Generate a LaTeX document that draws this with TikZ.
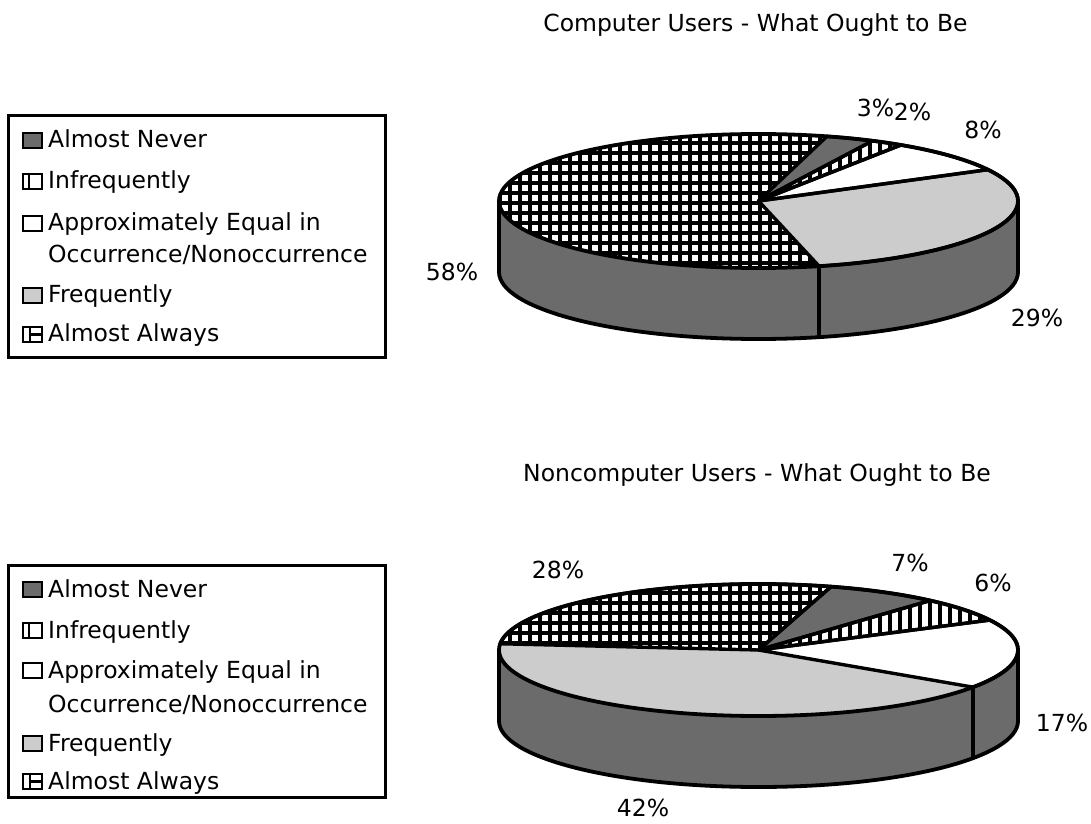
\documentclass[tikz,border=0pt]{standalone}
\usepackage{fontspec}
\setmainfont{DejaVu Sans}
\begin{document}
\begin{tikzpicture}[x=1pt,y=1pt,
  every node/.style={inner sep=0pt, font=\fontsize{23.5pt}{28pt}\selectfont},
  rim/.style={line width=3.8pt, line join=round, line cap=round},
  edge/.style={line width=3.4pt, line join=round, line cap=round},
  hatchline/.style={line width=3.3pt},
  darkfill/.style={fill=black!58},
  lightfill/.style={fill=black!20},
  legendbox/.style={draw, line width=3pt},
  icon/.style={draw, line width=2.6pt},
]
\useasboundingbox (0,0) rectangle (1091,823);

% one wedge of the top face: centre x, centre y, start angle, end angle
\newcommand\pieWedge[4]{(#1,#2) -- ++(#3:259.5pt and \pry) arc[start angle=#3, end angle=#4, x radius=259.5pt, y radius=\pry] -- cycle}
% crosshatch of the "Almost Always" wedges
\newcommand\gridWedge[4]{%
  \begin{scope}
    \clip \pieWedge{#1}{#2}{#3}{#4};
    \fill[white] \pieWedge{#1}{#2}{#3}{#4};
    \draw[hatchline] (#1-275,#2-80) grid[step=10pt] (#1+275,#2+80);
  \end{scope}}
% vertical bars of the "Infrequently" wedges
\newcommand\barWedge[4]{%
  \begin{scope}
    \clip \pieWedge{#1}{#2}{#3}{#4};
    \fill[white] \pieWedge{#1}{#2}{#3}{#4};
    \draw[hatchline] (#1-275,#2-80) grid[xstep=10pt, ystep=1000pt] (#1+275,#2+80);
  \end{scope}}
% side wall of a disc of depth 71
\newcommand\pieSide[2]{%
  \path[darkfill] (#1-259.5,#2) arc[start angle=180, end angle=360, x radius=259.5pt, y radius=\pry]
     -- ++(0,-71) arc[start angle=360, end angle=180, x radius=259.5pt, y radius=\pry] -- cycle;
  \draw[rim] (#1-259.5,#2) -- ++(0,-71) arc[start angle=180, end angle=360, x radius=259.5pt, y radius=\pry] -- ++(0,71);}

% ---------------- Computer users ----------------
\def\pry{67pt}
\coordinate (c1) at (758.5,622);
\pieSide{758.5}{622}
\draw[edge] (758.5,622) ++(283.5:259.5pt and 67pt) -- ++(0,-71);
\path[lightfill] \pieWedge{758.5}{622}{-76.5}{27.9};
\path[fill=white] \pieWedge{758.5}{622}{27.9}{56.7};
\barWedge{758.5}{622}{56.7}{63.9}
\path[darkfill] \pieWedge{758.5}{622}{63.9}{74.7};
\gridWedge{758.5}{622}{74.7}{283.5}
\draw[edge] \pieWedge{758.5}{622}{-76.5}{27.9};
\draw[edge] \pieWedge{758.5}{622}{27.9}{56.7};
\draw[edge] \pieWedge{758.5}{622}{56.7}{63.9};
\draw[edge] \pieWedge{758.5}{622}{63.9}{74.7};
\draw[rim] (c1) ellipse[x radius=259.5pt, y radius=67pt];

\node[anchor=base] (t1) at (755.5,791) {Computer Users - What Ought to Be};
\node[anchor=base] (p1a) at (875.5,706.5) {3\%};
\node[anchor=base] (p1b) at (912.5,702.5) {2\%};
\node[anchor=base] (p1c) at (983,684.5) {8\%};
\node[anchor=base] (p1d) at (1037,496.5) {29\%};
\node[anchor=base] (p1e) at (452,542.5) {58\%};

% legend
\draw[legendbox] (8,707) rectangle (385,466);
\draw[icon, fill=black!58] (23,675) rectangle (42,690);
\node[anchor=base west] (l1a) at (48,675) {Almost Never};
\draw[icon] (23,634) rectangle (42,649) (29,634) -- (29,649);
\node[anchor=base west] (l1b) at (48,634) {Infrequently};
\draw[icon] (23,592) rectangle (42,607);
\node[anchor=base west] (l1c) at (48,592) {Approximately Equal in};
\node[anchor=base west] (l1d) at (48,560) {Occurrence/Nonoccurrence};
\draw[icon, fill=black!20] (23,520) rectangle (42,535);
\node[anchor=base west] (l1e) at (48,520) {Frequently};
\draw[icon] (23,481) rectangle (42,496) (30,481) -- (30,496) (30,488.5) -- (42,488.5);
\node[anchor=base west] (l1f) at (48,481) {Almost Always};

% ---------------- Noncomputer users ----------------
\def\pry{66pt}
\coordinate (c2) at (758.5,173);
\pieSide{758.5}{173}
\draw[edge] (758.5,173) ++(325.75:259.5pt and 66pt) -- ++(0,-71);
\path[fill=white] \pieWedge{758.5}{173}{-34.25}{26.95};
\barWedge{758.5}{173}{26.95}{48.55}
\path[darkfill] \pieWedge{758.5}{173}{48.55}{73.75};
\gridWedge{758.5}{173}{73.75}{174.55}
\path[lightfill] \pieWedge{758.5}{173}{174.55}{325.75};
\draw[edge] \pieWedge{758.5}{173}{-34.25}{26.95};
\draw[edge] \pieWedge{758.5}{173}{26.95}{48.55};
\draw[edge] \pieWedge{758.5}{173}{48.55}{73.75};
\draw[edge] \pieWedge{758.5}{173}{73.75}{174.55};
\draw[rim] (c2) ellipse[x radius=259.5pt, y radius=66pt];

\node[anchor=base] (t2) at (757,342) {Noncomputer Users - What Ought to Be};
\node[anchor=base] (p2a) at (558,244.5) {28\%};
\node[anchor=base] (p2b) at (910,251.5) {7\%};
\node[anchor=base] (p2c) at (993,231.5) {6\%};
\node[anchor=base] (p2d) at (1062,91.5) {17\%};
\node[anchor=base] (p2e) at (643,7) {42\%};

% legend
\draw[legendbox] (8,258) rectangle (385,26);
\draw[icon, fill=black!58] (23,226) rectangle (42,241);
\node[anchor=base west] (l2a) at (48,226) {Almost Never};
\draw[icon] (23,185) rectangle (42,200) (29,185) -- (29,200);
\node[anchor=base west] (l2b) at (48,185) {Infrequently};
\draw[icon] (23,145) rectangle (42,160);
\node[anchor=base west] (l2c) at (48,145) {Approximately Equal in};
\node[anchor=base west] (l2d) at (48,111) {Occurrence/Nonoccurrence};
\draw[icon, fill=black!20] (23,72) rectangle (42,87);
\node[anchor=base west] (l2e) at (48,72) {Frequently};
\draw[icon] (23,34) rectangle (42,49) (30,34) -- (30,49) (30,41.5) -- (42,41.5);
\node[anchor=base west] (l2f) at (48,34) {Almost Always};
\end{tikzpicture}
\end{document}
